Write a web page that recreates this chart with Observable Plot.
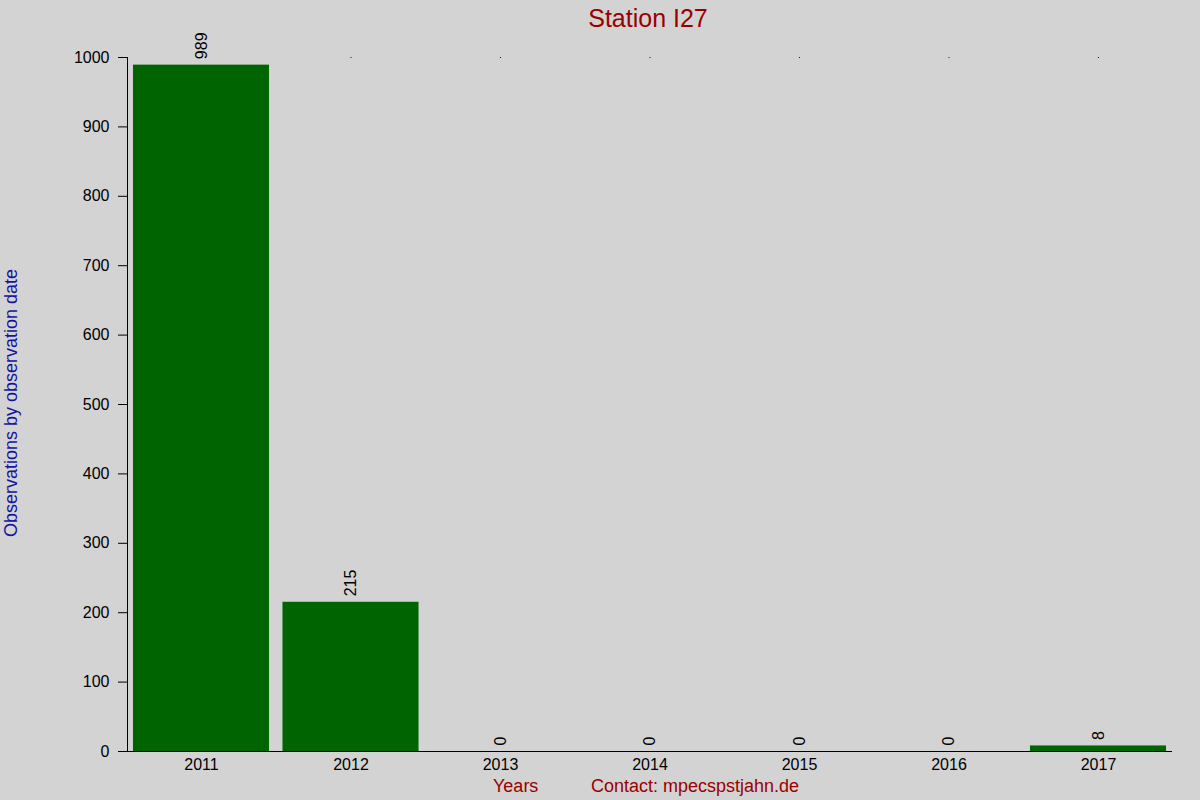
<!DOCTYPE html>
<html>
<head>
<meta charset="utf-8">
<script src="https://cdn.jsdelivr.net/npm/d3@7"></script>
<script src="https://cdn.jsdelivr.net/npm/@observablehq/plot@0.6"></script>
<style>
  html, body { margin: 0; padding: 0; background: #d3d3d3; }
  #wrap { position: relative; width: 1200px; height: 800px; font-family: "Liberation Sans", Arial, sans-serif; }
  .lbl { position: absolute; white-space: nowrap; line-height: 1; }
</style>
</head>
<body>
<div id="wrap"></div>
<script>
const years = ["2011", "2012", "2013", "2014", "2015", "2016", "2017"];
const counts = [989, 215, 0, 0, 0, 0, 8];
const yTicks = [0, 100, 200, 300, 400, 500, 600, 700, 800, 900, 1000];
const titleText = "Station I27";
const yLabelText = "Observations by observation date";
const xLabelText = "Years";
const contactText = "Contact: mpecspstjahn.de";

const data = years.map((y, i) => ({year: y, count: counts[i]}));

const chart = Plot.plot({
  width: 1200,
  height: 800,
  marginLeft: 127,
  marginRight: 28,
  marginTop: 57,
  marginBottom: 49,
  style: {background: "#d3d3d3", fontFamily: "Liberation Sans, Arial, sans-serif", fontSize: "16px", color: "black"},
  x: {domain: years, paddingInner: 0.09, paddingOuter: 0.04, round: false, label: null},
  y: {domain: [0, 1000], ticks: yTicks, label: null},
  marks: [
    Plot.barY(data, {x: "year", y: "count", fill: "#006400"}),
    Plot.axisY({ticks: yTicks, tickFormat: d => String(d), tickSize: 9, tickPadding: 9, fontSize: 16, label: null}),
    Plot.axisX({tickSize: 0, tickPadding: 7, fontSize: 16, label: null}),
    Plot.frame({anchor: "left", stroke: "black"}),
    Plot.ruleY([0], {stroke: "black"}),
    Plot.dot(data, {x: "year", y: () => 1000, r: 0.6, fill: "black", stroke: null}),
    Plot.text(data, {x: "year", y: "count", text: d => String(d.count), rotate: -90, textAnchor: "start", lineAnchor: "middle", dy: -6, fontSize: 16, fill: "black"})
  ]
});

const wrap = document.getElementById("wrap");
wrap.appendChild(chart);

function addLabel(text, css) {
  const d = document.createElement("div");
  d.className = "lbl";
  d.textContent = text;
  Object.assign(d.style, css);
  wrap.appendChild(d);
}
addLabel(titleText, {left: "648px", top: "18px", transform: "translate(-50%,-50%)", fontSize: "25px", color: "#990000"});
addLabel(yLabelText, {left: "11px", top: "403px", transform: "translate(-50%,-50%) rotate(-90deg)", fontSize: "18px", color: "#1414a0"});
addLabel(xLabelText, {left: "493px", top: "786px", transform: "translate(0,-50%)", fontSize: "18px", color: "#990000"});
addLabel(contactText, {left: "591px", top: "786px", transform: "translate(0,-50%)", fontSize: "18px", color: "#990000"});
</script>
</body>
</html>
